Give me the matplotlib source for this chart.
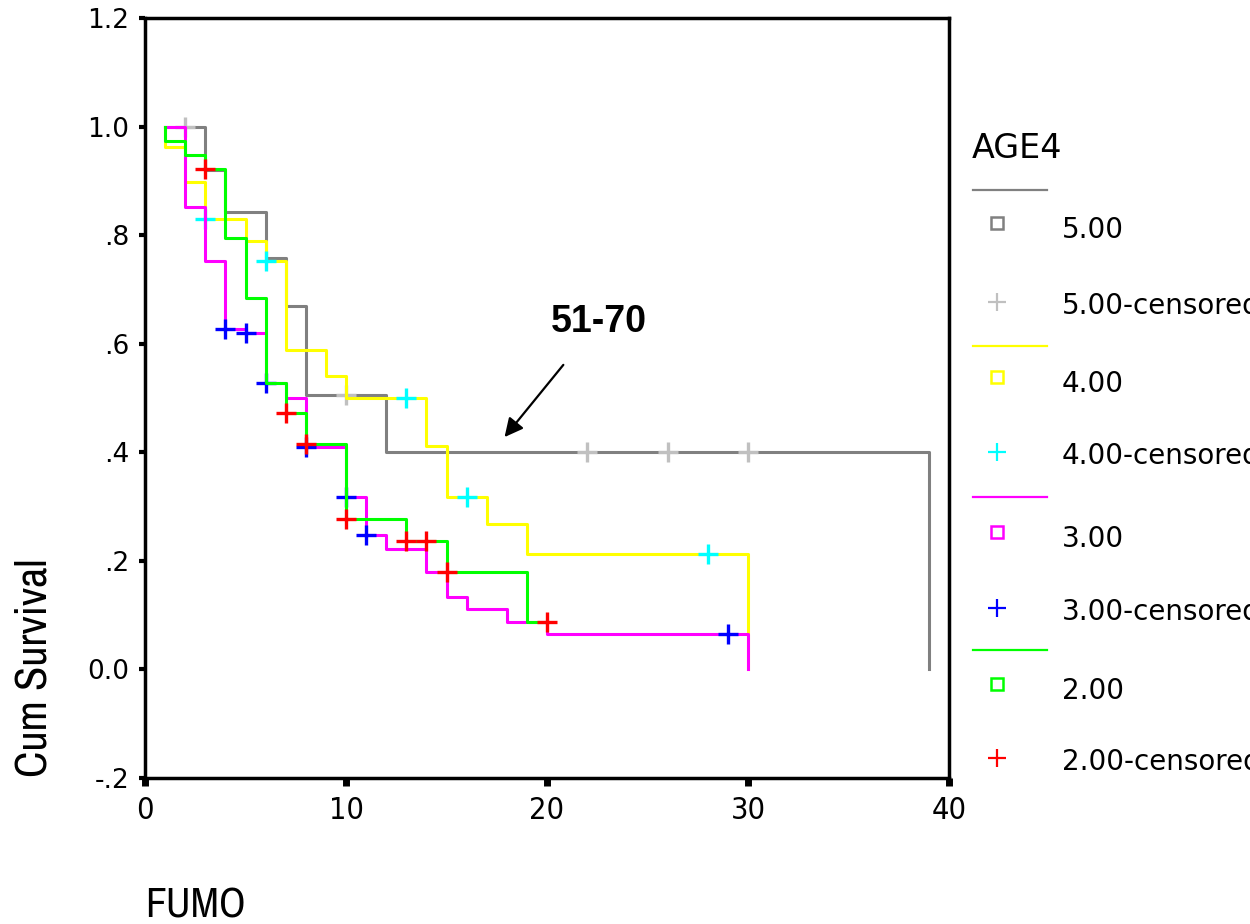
import matplotlib
matplotlib.use("Agg")
import matplotlib.pyplot as plt
from matplotlib.lines import Line2D

# ---- data ----
START = 1

g5_times = [3, 4, 6, 7, 8, 12, 39]
g5_surv = [0.92, 0.842, 0.757, 0.67, 0.505, 0.40, 0.0]
g5_cens_t = [2, 10, 22, 26, 30]
g5_cens_s = [1.0, 0.505, 0.40, 0.40, 0.40]

g4_times = [1, 2, 3, 5, 6, 7, 9, 10, 14, 15, 17, 19, 30]
g4_surv = [0.963, 0.897, 0.83, 0.79, 0.752, 0.588, 0.54, 0.50, 0.412, 0.318, 0.267, 0.212, 0.0]
g4_cens_t = [3, 6, 13, 16, 28]
g4_cens_s = [0.83, 0.752, 0.50, 0.318, 0.212]

g3_times = [2, 3, 4, 5, 6, 7, 8, 10, 11, 12, 14, 15, 16, 18, 20, 30]
g3_surv = [0.851, 0.752, 0.628, 0.619, 0.528, 0.50, 0.41, 0.317, 0.248, 0.221, 0.18, 0.134, 0.112, 0.087, 0.066, 0.0]
g3_cens_t = [4, 5, 6, 8, 10, 11, 29]
g3_cens_s = [0.628, 0.619, 0.528, 0.41, 0.317, 0.248, 0.066]

g2_times = [1, 2, 3, 4, 5, 6, 7, 8, 10, 13, 15, 19, 20]
g2_surv = [0.973, 0.948, 0.922, 0.794, 0.685, 0.528, 0.473, 0.416, 0.278, 0.236, 0.18, 0.087, 0.087]
g2_cens_t = [3, 7, 8, 10, 13, 14, 15, 20]
g2_cens_s = [0.922, 0.473, 0.416, 0.278, 0.236, 0.236, 0.18, 0.087]

labels = ["5.00", "4.00", "3.00", "2.00"]
line_colors = ["#808080", "#ffff00", "#ff00ff", "#00ff00"]
cens_colors = ["#c0c0c0", "#00ffff", "#0000ff", "#ff0000"]

groups = [
    (g5_times, g5_surv, g5_cens_t, g5_cens_s),
    (g4_times, g4_surv, g4_cens_t, g4_cens_s),
    (g3_times, g3_surv, g3_cens_t, g3_cens_s),
    (g2_times, g2_surv, g2_cens_t, g2_cens_s),
]

yticks = [-0.2, 0.0, 0.2, 0.4, 0.6, 0.8, 1.0, 1.2]
ytick_labels = ["-.2", "0.0", ".2", ".4", ".6", ".8", "1.0", "1.2"]
xticks = [0, 10, 20, 30, 40]

narrow = ["Archivo Narrow", "DejaVu Sans"]

fig = plt.figure(figsize=(12.5, 9.24), dpi=100)
ax = fig.add_axes([145 / 1250, 1 - 778 / 924, (949 - 145) / 1250, (778 - 18) / 924])

for i, (t, s, ct, cs) in enumerate(groups):
    x = [START] + t
    y = [1.0] + s
    ax.step(x, y, where="post", color=line_colors[i], lw=2.2, zorder=2 + i)
    ax.plot(ct, cs, ls="none", marker="+", ms=14, mew=2.4,
            color=cens_colors[i], zorder=2.5 + i)

ax.set_xlim(0, 40)
ax.set_ylim(-0.2, 1.2)
ax.set_xticks(xticks)
ax.set_xticklabels([str(v) for v in xticks], family="DejaVu Sans",
                   fontstretch="condensed", fontsize=22)
ax.set_yticks(yticks)
ax.set_yticklabels(ytick_labels, family="DejaVu Sans", fontsize=19)
ax.tick_params(axis="y", direction="out", length=4.5, width=3, pad=7)
ax.tick_params(axis="x", direction="out", length=6, width=5, pad=7)
for sp in ax.spines.values():
    sp.set_linewidth(2.5)
    sp.set_color("black")

# annotation
ax.annotate("", xy=(17.8, 0.424), xytext=(20.9, 0.565),
            arrowprops=dict(arrowstyle="-|>", color="black", lw=1.6, mutation_scale=28))
ax.text(22.6, 0.64, "51-70", fontsize=27, fontweight="bold",
        family="Liberation Sans", ha="center", va="center")

# axis titles
fig.text(35 / 1250, 1 - 668 / 924, "Cum Survival", rotation=90, family=narrow,
         fontsize=32, ha="center", va="center")
fig.text(145 / 1250, 1 - 905 / 924, "FUMO", family=narrow, fontsize=30,
         ha="left", va="center")

# legend drawn in pixel coordinates
lax = fig.add_axes([0, 0, 1, 1])
lax.set_xlim(0, 1250)
lax.set_ylim(924, 0)
lax.axis("off")
lax.text(972, 148, "AGE4", fontsize=24, family="DejaVu Sans", ha="left", va="center")
line_y = [190, 346, 497, 650]
sq_y = [223, 377, 532, 684]
plus_y = [302, 452, 608, 758]
for i in range(4):
    lax.add_line(Line2D([973, 1047], [line_y[i]] * 2, color=line_colors[i], lw=1.6))
    lax.plot([997], [sq_y[i]], marker="s", ms=9, mfc="none", mew=1.8,
             color=line_colors[i])
    lax.plot([997], [plus_y[i]], marker="+", ms=13, mew=1.6, color=cens_colors[i])
    lax.text(1062, sq_y[i] + 7, labels[i], fontsize=20, family="DejaVu Sans",
             ha="left", va="center")
    lax.text(1062, plus_y[i] + 4, labels[i] + "-censored", fontsize=20,
             family="DejaVu Sans", ha="left", va="center")

fig.savefig("out.png", dpi=100)
